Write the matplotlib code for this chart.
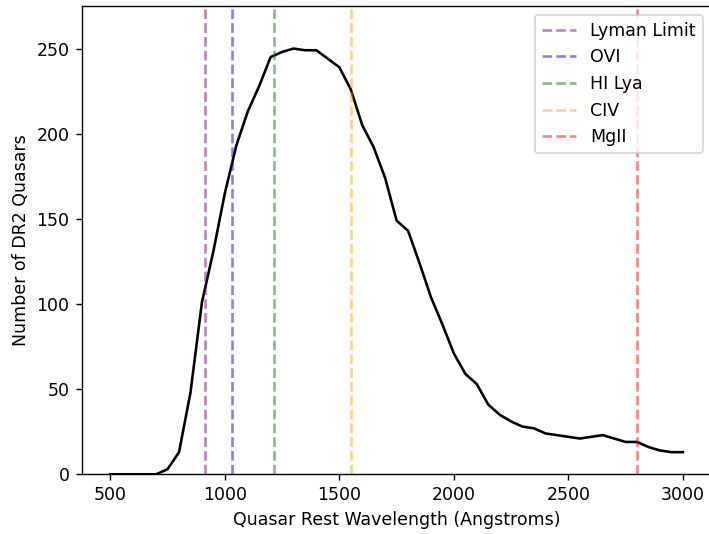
import matplotlib
matplotlib.use("Agg")
import matplotlib.pyplot as plt

# rest wavelength bins (Angstroms) and quasar counts
wavelength = [500, 550, 600, 650, 700, 750, 800, 850, 900, 950,
              1000, 1050, 1100, 1150, 1200, 1250, 1300, 1350, 1400, 1450,
              1500, 1550, 1600, 1650, 1700, 1750, 1800, 1850, 1900, 1950,
              2000, 2050, 2100, 2150, 2200, 2250, 2300, 2350, 2400, 2450,
              2500, 2550, 2600, 2650, 2700, 2750, 2800, 2850, 2900, 2950, 3000]
counts = [0, 0, 0, 0, 0, 3, 13, 48, 101, 131,
          165, 193, 213, 228, 245, 248, 250, 249, 249, 244,
          239, 226, 205, 192, 174, 149, 143, 124, 104, 88,
          71, 59, 53, 41, 35, 31, 28, 27, 24, 23,
          22, 21, 22, 23, 21, 19, 19, 16, 14, 13, 13]

line_names = ["Lyman Limit", "OVI", "HI Lya", "CIV", "MgII"]
line_waves = [912, 1033, 1216, 1549, 2798]
line_colors = ["purple", "blue", "green", "orange", "red"]

fig = plt.figure(figsize=(709 / 125, 534 / 125), dpi=125)
# right spine falls just outside the saved image, as in the original crop
ax = fig.add_axes([81.7 / 709, 0.1118, (711.5 - 81.7) / 709, 0.877])

ax.plot(wavelength, counts, color="black")
for name, wave, col in zip(line_names, line_waves, line_colors):
    ax.axvline(wave, color=col, linestyle="--", alpha=0.5, label=name)

ax.set_ylim(0, 275)
ax.set_xlabel("Quasar Rest Wavelength (Angstroms)")
ax.set_ylabel("Number of DR2 Quasars")
ax.legend(loc="upper right")

fig.savefig("out.png", dpi=125)
